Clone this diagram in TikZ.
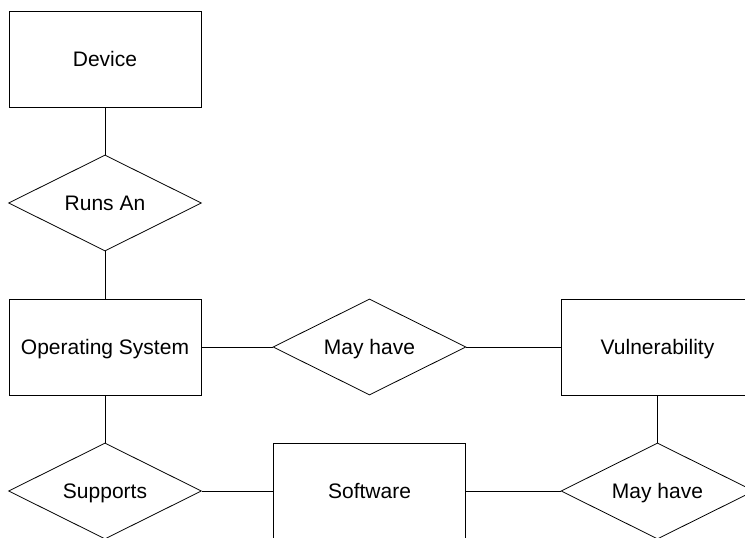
\documentclass[tikz,border=0pt]{standalone}
\usepackage{fontspec}
\setmainfont{Liberation Sans}
\usepackage{tikz}
\usetikzlibrary{shapes.geometric}

\tikzset{
	entity/.style={draw, rectangle, minimum width=192, minimum height=96, inner sep=0, text height=15pt, text depth=0pt},
	relation/.style={draw, diamond, aspect=2, minimum width=193, minimum height=96, inner sep=0, text height=15pt, text depth=0pt},
	link/.style={draw, line width=0.8pt}
}

\begin{document}
\begin{tikzpicture}[x=1pt, y=-1pt, line width=0.8pt, font=\fontsize{21}{25}\selectfont]
	\useasboundingbox (0, 0) rectangle (745, 538);

	% left column
	\node[entity] (device) at (105, 59) {Device};
	\node[relation] (runs) at (105, 203) {Runs An};
	\node[entity] (os) at (105, 347) {Operating System};
	\node[relation] (supports) at (105, 491) {Supports};

	% middle and right columns
	\node[relation] (mayhave1) at (369.5, 347) {May have};
	\node[entity] (vuln) at (657.5, 347) {Vulnerability};
	\node[entity] (software) at (369.5, 491) {Software};
	\node[relation] (mayhave2) at (657.5, 491) {May have};

	\draw[link] (device) -- (runs);
	\draw[link] (runs) -- (os);
	\draw[link] (os) -- (supports);
	\draw[link] (os) -- (mayhave1);
	\draw[link] (mayhave1) -- (vuln);
	\draw[link] (vuln) -- (mayhave2);
	\draw[link] (supports) -- (software);
	\draw[link] (software) -- (mayhave2);
\end{tikzpicture}
\end{document}
